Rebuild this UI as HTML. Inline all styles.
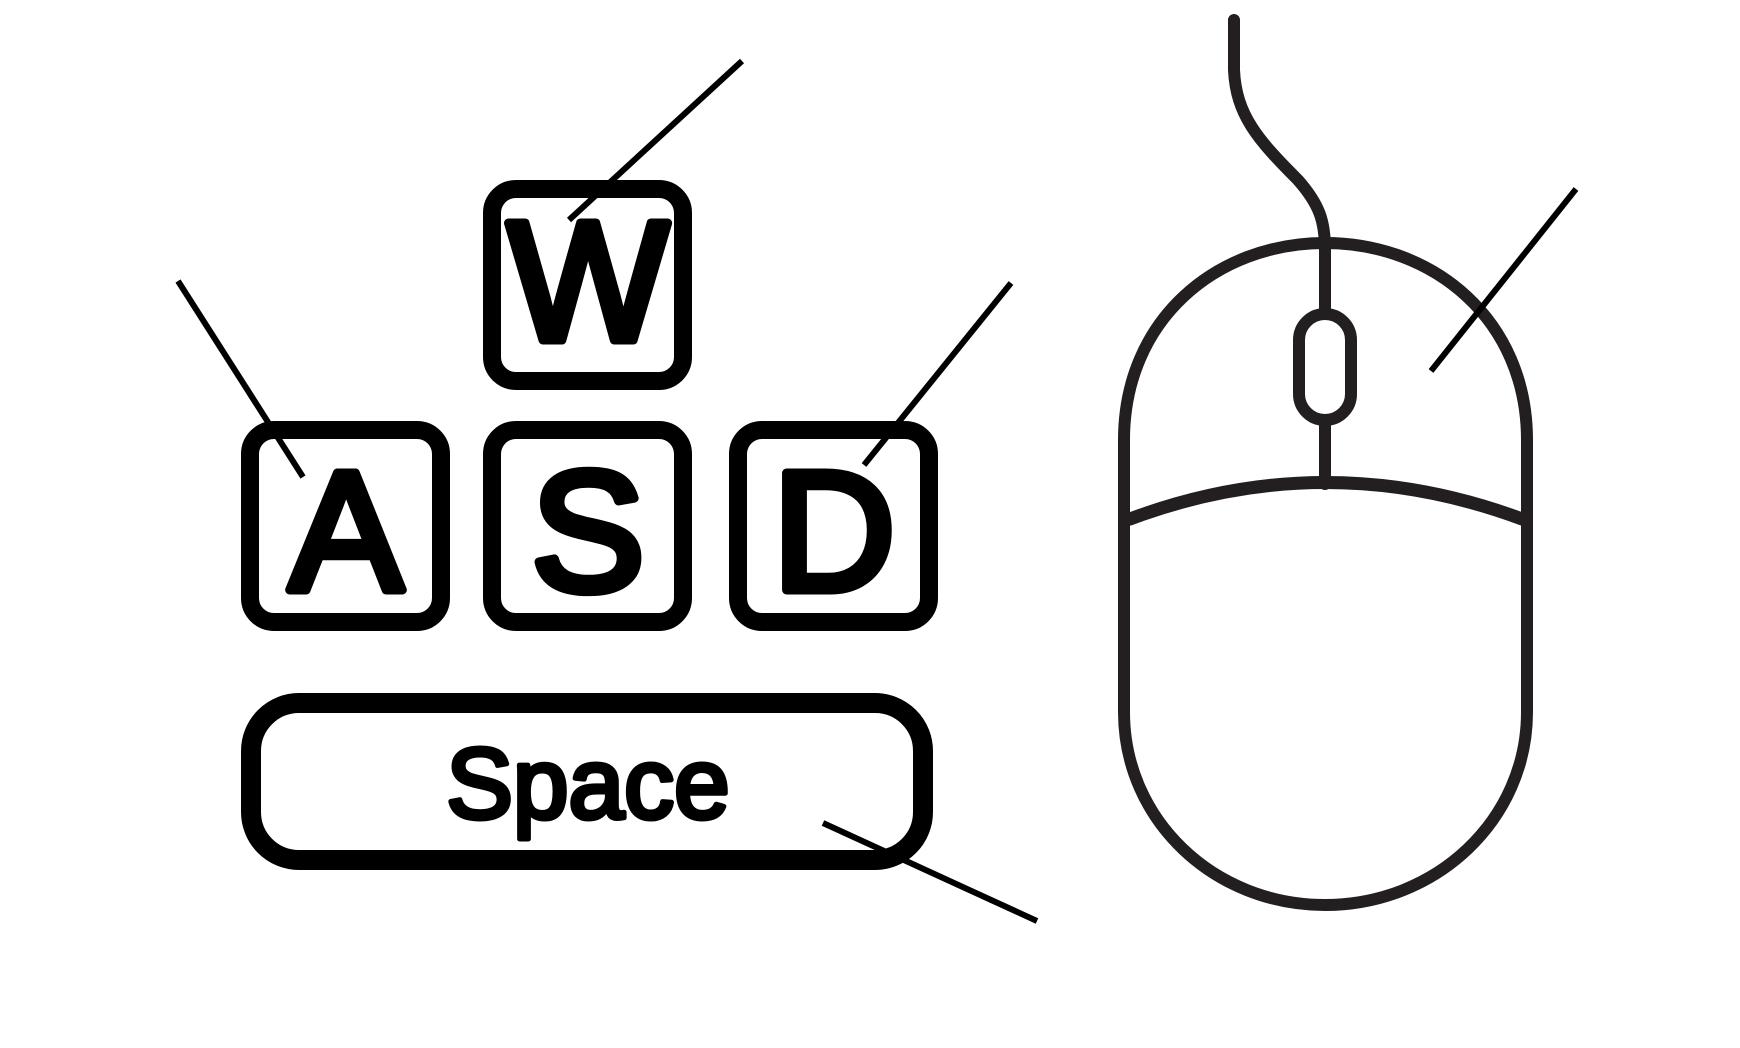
<!DOCTYPE html>
<html>
<head>
<meta charset="utf-8">
<style>
  html, body { margin:0; padding:0; background:#fff; }
  body { width:1740px; height:1048px; overflow:hidden; }
  svg { display:block; }
  .key { fill:none; stroke:#000; stroke-width:18; }
  .letter { font-family:"Liberation Sans", sans-serif; font-size:170px; fill:#000; stroke:#000; stroke-width:9; stroke-linejoin:round; text-anchor:middle; }
  .lead { stroke:#000; stroke-width:6; fill:none; }
  .m { fill:none; stroke:#231f20; stroke-width:12; stroke-linecap:round; }
  .lbl { font-family:"Liberation Sans", sans-serif; font-size:60px; fill:#fff; }
</style>
</head>
<body>
<svg width="1740" height="1048" viewBox="0 0 1740 1048">
  <g>
    <rect class="key" x="492" y="189" width="191" height="192" rx="24"/>
    <text class="letter" x="588" y="340">W</text>
  </g>
  <g>
    <rect class="key" x="250" y="430" width="191" height="192" rx="24"/>
    <text class="letter" x="346" y="590">A</text>
  </g>
  <g>
    <rect class="key" x="492" y="430" width="191" height="192" rx="24"/>
    <text class="letter" x="588" y="590">S</text>
  </g>
  <g>
    <rect class="key" x="738" y="430" width="191" height="192" rx="24"/>
    <text class="letter" x="834" y="590">D</text>
  </g>
  <g>
    <rect x="251" y="703" width="672" height="157" rx="48" fill="none" stroke="#000" stroke-width="20"/>
    <text x="588" y="818" text-anchor="middle" font-family="Liberation Sans, sans-serif" font-size="100" fill="#000" stroke="#000" stroke-width="5" stroke-linejoin="round">Space</text>
  </g>

  <g>
    <path class="m" d="M1234,20 L1234,70 C1236,115 1258,140 1298,180 C1320,205 1325,222 1325,250"/>
    <path class="m" d="M1124,440 C1124,320 1216,243 1325,243 C1434,243 1527,320 1527,440 L1527,712 C1527,820 1436,905 1325,905 C1214,905 1124,820 1124,712 Z"/>
    <rect class="m" x="1299" y="314" width="52" height="106" rx="26"/>
    <line class="m" x1="1325" y1="243" x2="1325" y2="314"/>
    <line class="m" x1="1325" y1="420" x2="1325" y2="484"/>
    <path class="m" style="stroke-width:13" d="M1130,519 Q1325,446 1522,519"/>
  </g>

  <line class="lead" x1="742" y1="61" x2="569" y2="220"/>
  <line class="lead" x1="178" y1="281" x2="303" y2="477"/>
  <line class="lead" x1="1011" y1="283" x2="864" y2="465"/>
  <line class="lead" x1="823" y1="823" x2="1037" y2="921"/>
  <line class="lead" x1="1576" y1="189" x2="1431" y2="371"/>

  <text class="lbl" x="760" y="85">Climb</text>
  <text class="lbl" x="55" y="240">Move Left</text>
  <text class="lbl" x="828" y="240">Move Right</text>
  <text class="lbl" x="1555" y="160">Shoot</text>
  <text class="lbl" x="1055" y="940">Jump</text>
  <text class="lbl" x="55" y="1000">*Space + W = Double Jump</text>
</svg>
</body>
</html>
